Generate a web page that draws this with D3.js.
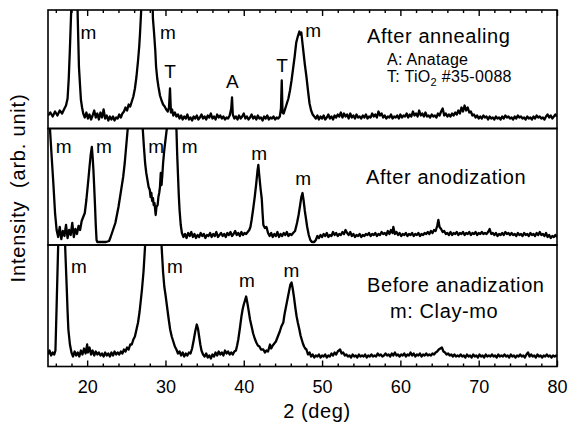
<!DOCTYPE html>
<html><head><meta charset="utf-8">
<script src="https://cdn.jsdelivr.net/npm/d3@7"></script>
<style>
html,body{margin:0;padding:0;background:#fff;}
text{font-family:"Liberation Sans",Arial,sans-serif;fill:#000;}
</style></head>
<body>
<script>
// ---- data: 2θ (deg) vs intensity (arb. unit) ----
const annealed = [
[15.0,13],[15.3,16],[15.6,12],[15.9,17],[16.2,13],[16.5,18],[16.8,15],[17.1,20],[17.3,23],[17.5,30],[17.65,50],[17.8,80],[17.95,115],[18.1,170],[18.4,220],[18.7,150],[18.8,110],[18.95,62],[19.1,42],[19.2,29],[19.35,21],[19.5,15],
[19.7,11],[19.9,16],[20.1,10],[20.3,14],[20.5,9],[20.7,13],[20.9,18],[21.1,11],[21.3,15],[21.5,9],[21.7,16],[21.9,11],[22.1,19],[22.3,10],[22.5,13],[22.7,8],[22.9,12],[23.1,9],[23.3,12],[23.5,8],[23.7,11],[23.9,10],[24.1,14],[24.3,11],[24.5,15],
[24.7,17],[24.9,21],[25.1,18],[25.3,24],[25.5,22],[25.7,27],[25.9,32],[26.1,40],[26.3,52],[26.5,68],[26.65,82],[26.75,95],[26.9,118],[27.2,170],[27.8,230],[28.2,170],[28.4,110],[28.55,95],[28.7,78],[28.8,62],[28.95,50],[29.1,42],[29.3,33],[29.5,28],[29.7,24],[29.9,22],[30.1,19],[30.3,17],[30.45,21],[30.58,40],[30.7,16],[30.85,19],[31.0,13],[31.2,16],[31.4,12],
[31.6,14],[31.8,10],[32.0,13],[32.2,9],[32.4,12],[32.6,10],[32.8,14],[33.0,9],[33.2,11],[33.4,8],[33.6,12],[33.8,10],[34.0,13],[34.2,9],[34.4,11],[34.6,14],[34.8,10],[35.0,12],[35.2,9],[35.4,13],[35.6,11],[35.8,15],[36.0,10],[36.2,12],[36.4,9],[36.6,14],[36.8,11],[37.0,13],[37.2,10],[37.4,12],[37.6,9],[37.8,11],[38.0,10],[38.2,13],[38.4,20],[38.5,31],[38.6,14],[38.8,10],[39.0,12],[39.2,9],[39.4,13],[39.6,10],[39.8,12],[40.0,15],[40.2,10],[40.4,12],[40.6,9],[40.8,11],[41.0,14],[41.2,10],[41.4,12],[41.6,9],[41.8,13],[42.0,10],[42.2,11],[42.4,8],[42.6,12],[42.8,10],[43.0,13],[43.2,9],[43.4,11],[43.6,10],[43.8,12],[44.0,9],[44.2,11],[44.4,10],[44.6,12],[44.75,20],[44.85,48],[44.95,16],[45.1,15],[45.3,20],[45.5,25],[45.7,30],[45.9,38],[46.1,48],[46.3,60],[46.5,72],[46.7,86],[46.9,92],[47.1,97],[47.2,94],[47.35,96],[47.5,85],[47.6,78],[47.8,64],[48.0,52],[48.2,38],[48.4,25],[48.6,18],[48.8,14],[49.0,12],
[49.2,10],[49.4,13],[49.6,9],[49.8,12],[50.0,10],[50.2,13],[50.4,9],[50.6,11],[50.8,14],[51.0,10],[51.2,12],[51.4,9],[51.6,13],[51.8,11],[52.0,14],[52.2,12],[52.4,16],[52.6,11],[52.8,15],[53.0,12],[53.2,14],[53.4,10],[53.6,15],[53.8,11],[54.0,13],[54.2,10],[54.4,14],[54.6,11],[54.8,12],[55.0,10],[55.2,13],[55.4,11],[55.6,14],[55.8,10],[56.0,12],[56.2,11],[56.4,15],[56.6,12],[56.8,14],[57.0,11],[57.2,17],[57.4,13],[57.6,15],[57.8,11],[58.0,13],[58.2,10],[58.4,12],[58.6,11],[58.8,14],[59.0,10],[59.2,12],[59.4,11],[59.6,13],[59.8,10],[60.0,14],[60.2,11],[60.4,13],[60.6,12],[60.8,15],[61.0,11],[61.2,14],[61.4,12],[61.6,17],[61.8,13],[62.0,15],[62.2,12],[62.4,18],[62.6,13],[62.8,15],[63.0,12],[63.2,16],[63.4,12],[63.6,13],[63.8,11],[64.0,14],[64.2,12],[64.4,13],[64.6,11],[64.8,15],[65.0,13],[65.2,17],[65.4,20],[65.6,13],[65.8,15],[66.0,12],[66.2,14],[66.4,12],[66.6,15],[66.8,13],[67.0,16],[67.2,14],[67.4,18],[67.6,15],[67.8,21],[68.0,17],[68.2,23],[68.4,18],[68.6,21],[68.8,16],[69.0,17],[69.2,13],[69.4,14],[69.6,11],[69.8,13],[70.0,10],[70.2,12],[70.4,10],[70.6,13],[70.8,11],[71.0,12],[71.2,9],[71.4,12],[71.6,10],[71.8,11],[72.0,9],[72.2,12],[72.4,10],[72.6,11],[72.8,9],[73.0,12],[73.2,10],[73.4,13],[73.6,11],[73.8,12],[74.0,10],[74.2,11],[74.4,9],[74.6,12],[74.8,10],[75.0,13],[75.2,11],[75.4,12],[75.6,10],[75.8,11],[76.0,9],[76.2,12],[76.4,10],[76.6,11],[76.8,9],[77.0,12],[77.2,10],[77.4,13],[77.6,11],[77.8,12],[78.0,10],[78.2,11],[78.4,9],[78.6,12],[78.8,14],[79.0,11],[79.2,13],[79.4,10],[79.6,12],[79.8,14],[80.0,12]
];
const anodized = [
[15.0,200],[15.26,115],[15.47,88],[15.68,62],[15.9,32],[16.1,15],[16.3,8],[16.5,18],[16.7,6],[16.9,14],[17.1,9],[17.3,20],[17.5,7],[17.7,15],[17.9,10],[18.1,22],[18.3,8],[18.5,16],[18.7,11],[18.9,19],[19.1,15],[19.3,24],[19.5,28],[19.7,32],[19.9,45],[20.15,65],[20.3,78],[20.45,90],[20.6,98],[20.7,88],[20.8,75],[20.9,58],[21.0,40],[21.1,20],[21.2,5],[21.3,3],[21.6,3],[22.0,3],[22.4,3],[22.8,4],[23.0,8],[23.3,15],[23.6,22],[23.8,30],[24.0,38],[24.2,48],[24.4,58],[24.6,68],[24.8,82],[25.0,100],[25.2,118],[25.6,180],[26.5,250],[27.0,150],[27.1,116],[27.25,98],[27.4,82],[27.55,72],[27.7,65],[27.85,58],[28.0,55],[28.1,48],[28.2,52],[28.3,44],[28.4,47],[28.5,40],[28.6,42],[28.75,30],[28.85,38],[29.0,40],[29.1,48],[29.2,52],[29.3,58],[29.4,72],[29.5,60],[29.6,70],[29.7,82],[29.85,95],[30.0,105],[30.2,118],[30.5,200],[31.0,220],[31.3,150],[31.4,116],[31.5,90],[31.6,70],[31.7,50],[31.8,35],[31.95,20],[32.1,12],
[32.3,8],[32.5,11],[32.7,7],[32.9,12],[33.1,9],[33.3,13],[33.5,8],[33.7,11],[33.9,7],[34.1,10],[34.3,8],[34.5,12],[34.7,9],[34.9,11],[35.1,7],[35.3,10],[35.5,9],[35.7,12],[35.9,8],[36.1,11],[36.3,9],[36.5,13],[36.7,8],[36.9,10],[37.1,12],[37.3,9],[37.5,11],[37.7,8],[37.9,12],[38.1,10],[38.3,13],[38.5,9],[38.7,11],[38.9,14],[39.1,10],[39.3,12],[39.5,9],[39.7,13],[39.9,10],[40.1,12],[40.3,11],[40.5,13],[40.7,15],[40.85,18],[41.0,25],[41.2,36],[41.4,48],[41.6,62],[41.75,74],[41.86,80],[42.0,68],[42.15,56],[42.3,46],[42.4,32],[42.5,20],[42.7,17],[42.9,18],[43.1,12],[43.3,9],[43.5,12],[43.7,8],[43.9,11],[44.1,9],[44.3,13],[44.5,8],[44.7,11],[44.9,9],[45.1,12],[45.3,10],[45.5,13],[45.7,9],[45.9,11],[46.1,10],[46.3,12],[46.55,14],[46.8,22],[47.0,30],[47.2,40],[47.35,48],[47.5,52],[47.65,44],[47.8,34],[47.95,26],[48.1,18],[48.3,10],[48.5,5],[48.7,3],[49.0,3],[49.2,5],
[49.4,9],[49.6,7],[49.8,10],[50.0,8],[50.2,11],[50.4,9],[50.6,12],[50.8,8],[51.0,10],[51.2,9],[51.4,13],[51.6,10],[51.8,12],[52.0,9],[52.2,11],[52.4,10],[52.6,13],[52.8,11],[53.0,15],[53.2,12],[53.4,10],[53.6,13],[53.8,9],[54.0,11],[54.2,8],[54.4,10],[54.6,9],[54.8,11],[55.0,8],[55.2,10],[55.4,9],[55.6,11],[55.8,10],[56.0,12],[56.2,9],[56.4,11],[56.6,10],[56.8,12],[57.0,9],[57.2,11],[57.4,10],[57.6,13],[57.8,11],[58.0,12],[58.2,10],[58.4,14],[58.6,11],[58.8,15],[59.0,12],[59.1,18],[59.3,11],[59.5,13],[59.7,10],[59.9,12],[60.1,9],[60.3,11],[60.5,10],[60.7,12],[60.9,9],[61.1,11],[61.3,10],[61.5,12],[61.7,9],[61.9,11],[62.1,10],[62.3,12],[62.5,9],[62.7,11],[62.9,10],[63.1,12],[63.3,11],[63.5,13],[63.7,11],[63.9,14],[64.1,12],[64.3,15],[64.5,14],[64.7,19],[64.85,25],[65.0,18],[65.2,16],[65.4,13],[65.6,14],[65.8,11],[66.0,12],[66.2,10],[66.4,13],[66.6,10],[66.8,12],[67.0,11],[67.2,13],[67.4,10],[67.6,12],[67.8,11],[68.0,13],[68.2,10],[68.4,12],[68.6,11],[68.8,13],[69.0,10],[69.2,12],[69.4,11],[69.6,13],[69.8,10],[70.0,12],[70.2,11],[70.4,13],[70.6,11],[70.8,12],[71.0,11],[71.2,13],[71.4,16],[71.6,11],[71.8,12],[72.0,10],[72.2,12],[72.4,9],[72.6,11],[72.8,10],[73.0,12],[73.2,10],[73.4,13],[73.6,11],[73.8,12],[74.0,10],[74.2,12],[74.4,10],[74.6,11],[74.8,9],[75.0,12],[75.2,10],[75.4,11],[75.6,9],[75.8,12],[76.0,10],[76.2,11],[76.4,9],[76.6,12],[76.8,10],[77.0,11],[77.2,9],[77.4,12],[77.6,10],[77.8,13],[78.0,10],[78.2,11],[78.4,9],[78.6,12],[78.8,8],[79.0,10],[79.2,7],[79.4,9],[79.6,8],[79.8,10],[80.0,8]
];
const before = [
[15.0,12],[15.2,16],[15.4,11],[15.6,14],[15.8,12],[15.95,16],[16.1,60],[16.3,121],[16.6,220],[17.0,200],[17.2,118],[17.4,77],[17.5,55],[17.6,37],[17.8,22],[18.0,14],[18.2,10],[18.4,15],[18.6,11],[18.8,14],[19.0,10],[19.2,16],[19.4,12],[19.6,18],[19.8,13],[20.0,22],[20.1,14],[20.3,19],[20.5,12],[20.7,16],[20.9,11],[21.1,15],[21.3,12],[21.5,14],[21.7,11],[21.9,13],[22.1,10],[22.3,14],[22.5,11],[22.7,13],[22.9,10],[23.1,14],[23.3,11],[23.5,15],[23.7,12],[23.9,14],[24.1,12],[24.3,15],[24.5,13],[24.7,17],[24.9,15],[25.1,19],[25.3,17],[25.5,22],[25.7,22],[25.9,27],[26.1,30],[26.3,37],[26.5,44],[26.7,55],[26.85,66],[27.0,77],[27.2,95],[27.4,121],[28.0,220],[29.0,230],[29.5,121],[29.7,94],[29.85,80],[30.0,72],[30.2,60],[30.4,48],[30.6,37],[30.8,30],[31.0,25],[31.2,20],[31.4,17],[31.6,13],[31.8,15],[32.0,11],[32.2,14],[32.4,10],[32.6,13],[32.8,11],[33.0,14],[33.2,13],[33.4,18],[33.6,26],[33.8,35],[34.0,42],[34.15,38],[34.3,30],[34.45,22],[34.6,16],[34.8,12],[35.0,10],[35.2,13],[35.4,9],[35.6,11],[35.8,8],[36.0,12],[36.2,10],[36.4,14],[36.6,11],[36.8,15],[37.0,12],[37.2,14],[37.4,11],[37.6,16],[37.8,13],[38.0,15],[38.2,12],[38.4,14],[38.6,12],[38.8,15],[39.0,16],[39.15,21],[39.3,27],[39.5,38],[39.7,50],[39.85,57],[40.0,62],[40.15,66],[40.3,70],[40.45,64],[40.6,57],[40.8,47],[41.0,40],[41.2,33],[41.4,28],[41.6,24],[41.8,21],[42.0,20],[42.2,17],[42.5,17],[42.7,14],[42.9,16],[43.1,15],[43.35,22],[43.5,18],[43.7,21],[43.9,23],[44.1,25],[44.2,27],[44.4,31],[44.6,35],[44.8,40],[45.05,44],[45.2,52],[45.4,60],[45.6,68],[45.8,76],[45.95,82],[46.1,84],[46.25,78],[46.4,70],[46.6,58],[46.75,50],[46.9,44],[47.1,37],[47.25,31],[47.4,27],[47.55,23],[47.7,20],[47.85,18],[48.0,17],[48.2,12],[48.4,14],[48.6,10],[48.8,12],[49.0,9],[49.2,11],[49.4,10],[49.6,12],[49.8,9],[50.0,11],[50.2,10],[50.4,12],[50.6,9],[50.8,11],[51.0,10],[51.2,13],[51.4,11],[51.6,14],[51.8,12],[52.0,15],[52.3,17],[52.5,13],[52.7,14],[52.9,11],[53.1,12],[53.3,10],[53.5,11],[53.7,9],[53.9,12],[54.1,10],[54.3,11],[54.5,9],[54.7,12],[54.9,10],[55.1,11],[55.3,10],[55.5,12],[55.7,9],[55.9,11],[56.1,10],[56.3,12],[56.5,10],[56.7,11],[56.9,10],[57.1,13],[57.3,11],[57.5,12],[57.7,10],[57.9,11],[58.1,13],[58.3,11],[58.5,12],[58.7,10],[58.9,13],[59.1,11],[59.3,14],[59.5,11],[59.7,12],[59.9,10],[60.1,12],[60.3,11],[60.5,13],[60.7,10],[60.9,12],[61.1,11],[61.3,14],[61.5,11],[61.7,13],[61.9,10],[62.1,12],[62.3,11],[62.5,13],[62.7,10],[62.9,12],[63.1,11],[63.3,13],[63.5,11],[63.7,12],[63.9,11],[64.1,13],[64.3,12],[64.5,14],[64.7,15],[64.9,17],[65.1,18],[65.3,19],[65.5,15],[65.7,14],[65.9,12],[66.1,13],[66.3,11],[66.5,12],[66.7,10],[66.9,12],[67.1,10],[67.3,11],[67.5,10],[67.7,12],[67.9,10],[68.1,11],[68.3,9],[68.5,12],[68.7,10],[68.9,11],[69.1,9],[69.3,12],[69.5,10],[69.7,11],[69.9,9],[70.1,12],[70.3,10],[70.5,11],[70.7,9],[70.9,12],[71.1,10],[71.3,11],[71.5,10],[71.7,12],[71.9,10],[72.1,11],[72.3,9],[72.5,12],[72.7,10],[72.9,11],[73.1,10],[73.3,12],[73.5,10],[73.7,11],[73.9,9],[74.1,12],[74.3,10],[74.5,11],[74.7,9],[74.9,11],[75.1,10],[75.3,12],[75.5,10],[75.7,11],[75.9,9],[76.1,12],[76.3,14],[76.5,10],[76.7,12],[76.9,10],[77.1,11],[77.3,9],[77.5,12],[77.7,10],[77.9,11],[78.1,9],[78.3,11],[78.5,10],[78.7,12],[78.9,10],[79.1,11],[79.3,9],[79.5,11],[79.7,10],[79.9,11],[80.0,10]
];
// peak markers: [2θ, intensity level, letter]
const annealedMarks = [[20.15,90,"m"],[30.3,89.5,"m"],[30.6,50.5,"T"],[38.55,40.5,"A"],[44.9,56.5,"T"],[48.85,91.5,"m"]];
const anodizedMarks = [[17.0,92,"m"],[22.15,92,"m"],[28.8,92,"m"],[33.1,92,"m"],[41.95,85,"m"],[47.6,60,"m"]];
const beforeMarks   = [[18.96,93.5,"m"],[31.2,93.5,"m"],[40.4,79.5,"m"],[46.1,89.5,"m"]];
const panelMax = [118.5, 116.5, 121.5];
const majorTicks = [20,30,40,50,60,70,80];
const minorTicks = [16,18,22,24,26,28,32,34,36,38,42,44,46,48,52,54,56,58,62,64,66,68,72,74,76,78];

// ---- layout ----
const W = 570, H = 427;
const L = 48, R = 557;
const bounds = [10, 128.5, 245, 366.5];
const svg = d3.select("body").append("svg").attr("width", W).attr("height", H);
const x = d3.scaleLinear().domain([15, 80]).range([L, R]);

const series = [annealed, anodized, before];
const marks = [annealedMarks, anodizedMarks, beforeMarks];
series.forEach((data, i) => {
  const top = bounds[i], bot = bounds[i + 1];
  const y = d3.scaleLinear().domain([0, panelMax[i]]).range([bot, top]);
  const id = "clip" + i;
  svg.append("clipPath").attr("id", id).append("rect")
    .attr("x", L).attr("y", top).attr("width", R - L).attr("height", bot - top);
  svg.append("path").datum(data)
    .attr("clip-path", `url(#${id})`)
    .attr("fill", "none").attr("stroke", "#000").attr("stroke-width", 2.3)
    .attr("stroke-linejoin", "round")
    .attr("d", d3.line().x(d => x(d[0])).y(d => y(d[1])));
  svg.append("g").selectAll("text").data(marks[i]).join("text")
    .attr("x", d => x(d[0])).attr("y", d => y(d[1]))
    .attr("text-anchor", "middle")
    .style("font-size", "19px")
    .text(d => d[2]);
  svg.append("rect").attr("x", L).attr("y", top).attr("width", R - L).attr("height", bot - top)
    .attr("fill", "none").attr("stroke", "#000").attr("stroke-width", 1.6);
});

// axes (ticks inside)
const bottomMajor = svg.append("g").attr("transform", `translate(0,${bounds[3]})`)
  .call(d3.axisBottom(x).tickValues(majorTicks).tickSize(-6).tickPadding(14).tickFormat(d3.format("d")));
const bottomMinor = svg.append("g").attr("transform", `translate(0,${bounds[3]})`)
  .call(d3.axisBottom(x).tickValues(minorTicks).tickSize(-3).tickFormat(""));
const topMajor = svg.append("g").attr("transform", `translate(0,${bounds[0]})`)
  .call(d3.axisTop(x).tickValues(majorTicks).tickSize(-6).tickFormat(""));
const topMinor = svg.append("g").attr("transform", `translate(0,${bounds[0]})`)
  .call(d3.axisTop(x).tickValues(minorTicks).tickSize(-3).tickFormat(""));
[bottomMajor, bottomMinor, topMajor, topMinor].forEach(g => {
  g.select(".domain").remove();
  g.selectAll("line").attr("stroke", "#000").attr("stroke-width", 1.4);
});
bottomMajor.selectAll("text").style("font-size", "18px").attr("fill", "#000")
  .style("font-family", '"Liberation Sans",Arial,sans-serif');

// panel titles / legends
const t = (txt, xx, yy, size, ls) => svg.append("text").attr("x", xx).attr("y", yy)
  .style("font-size", size + "px").style("letter-spacing", (ls || 0) + "px").text(txt);
t("After annealing", 367, 43, 20, 0.6);
t("A: Anatage", 387, 65, 16, 0.3);
const tio = svg.append("text").attr("x", 387).attr("y", 82).style("font-size", "16px").style("letter-spacing", "0.3px");
tio.append("tspan").text("T: TiO");
tio.append("tspan").attr("dy", 4).style("font-size", "11px").text("2");
tio.append("tspan").attr("dy", -4).text(" #35-0088");
t("After anodization", 366, 184, 20, 0.6);
t("Before anadization", 367, 292, 20, 0.6);
t("m: Clay-mo", 390, 318, 20, 0.6);

// axis titles
svg.append("text").attr("x", 317).attr("y", 418).attr("text-anchor", "middle")
  .style("font-size", "20px").style("letter-spacing", "0.6px").text("2 (deg)");
svg.append("text").attr("transform", "translate(25,188) rotate(-90)").attr("text-anchor", "middle")
  .style("font-size", "20px").style("letter-spacing", "0.8px").style("white-space", "pre")
  .text("Intensity  (arb. unit)");
</script>
</body></html>
